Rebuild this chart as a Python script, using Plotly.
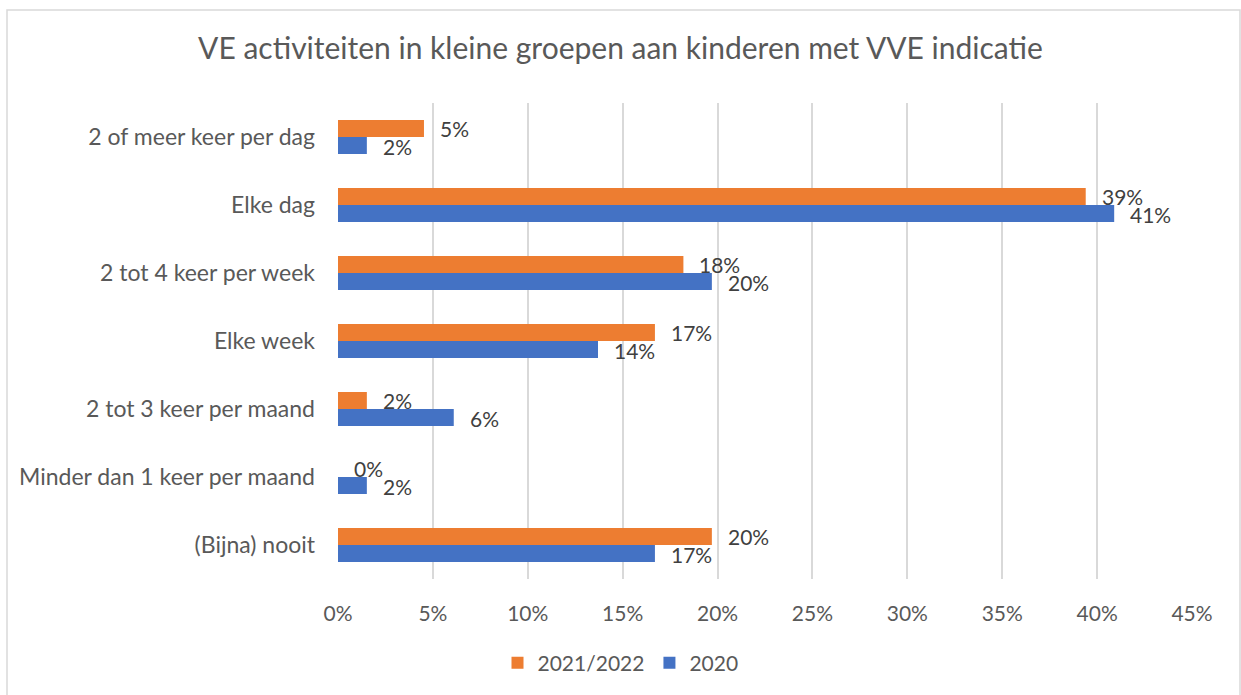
import plotly.graph_objects as go

categories = [
    "2 of meer keer per dag",
    "Elke dag",
    "2 tot 4 keer per week",
    "Elke week",
    "2 tot 3 keer per maand",
    "Minder dan 1 keer per maand",
    "(Bijna) nooit",
]
vals_2122 = [0.0453, 0.394, 0.182, 0.167, 0.0152, 0.0, 0.197]
vals_2020 = [0.0152, 0.409, 0.197, 0.137, 0.061, 0.0152, 0.167]
x_ticks = [0, 0.05, 0.10, 0.15, 0.20, 0.25, 0.30, 0.35, 0.40, 0.45]
x_tick_labels = ["0%", "5%", "10%", "15%", "20%", "25%", "30%", "35%", "40%", "45%"]

ORANGE = "#ED7D31"
BLUE = "#4472C4"
FONT = "Lato"

fig = go.Figure()
fig.add_trace(go.Bar(y=categories, x=vals_2122, name="2021/2022", orientation="h",
                     marker=dict(color=ORANGE, line=dict(width=0))))
fig.add_trace(go.Bar(y=categories, x=vals_2020, name="2020", orientation="h",
                     marker=dict(color=BLUE, line=dict(width=0))))

annotations = []
for series, shift in ((vals_2122, 9), (vals_2020, -9)):
    for cat, v in zip(categories, series):
        annotations.append(dict(
            x=v, y=cat, xref="x", yref="y", text=f"{round(v * 100):.0f}%",
            showarrow=False, xanchor="left", yanchor="middle", xshift=14, yshift=shift,
            font=dict(family=FONT, size=21, color="#404040"),
        ))

fig.update_layout(
    width=1241, height=695,
    margin=dict(l=338, r=49, t=103, b=116),
    paper_bgcolor="white", plot_bgcolor="white",
    barmode="group", bargap=0.5, bargroupgap=0,
    title=dict(text="VE activiteiten in kleine groepen aan kinderen met VVE indicatie",
               x=0.5, xref="container", xanchor="center", y=1 - 48 / 695, yref="container",
               yanchor="middle", font=dict(family=FONT, size=30, color="#595959")),
    xaxis=dict(range=[0, 0.45], tickvals=x_ticks, ticktext=x_tick_labels,
               showgrid=True, gridcolor="#D9D9D9", gridwidth=1.5, zeroline=False,
               showline=False, ticks="", ticklabelstandoff=20,
               tickfont=dict(family=FONT, size=21, color="#595959"), fixedrange=True),
    yaxis=dict(autorange="reversed", showgrid=False, zeroline=False, showline=False,
               ticks="", ticklabelstandoff=22,
               tickfont=dict(family=FONT, size=23, color="#595959")),
    legend=dict(orientation="h", x=0.5, xref="container", xanchor="center",
                y=1 - 663 / 695, yref="container", yanchor="middle",
                font=dict(family=FONT, size=21, color="#595959"),
                itemwidth=30, traceorder="normal"),
    annotations=annotations,
    shapes=[dict(type="rect", xref="paper", yref="paper",
                 x0=(7 - 338) / 854, x1=(1240 - 338) / 854,
                 y0=(579 - 700) / 476, y1=1 + (103 - 10) / 476,
                 line=dict(color="#D9D9D9", width=1.5), fillcolor="rgba(0,0,0,0)", layer="below")],
    showlegend=True,
)
fig.write_html("out.html", config={"displayModeBar": False},
               post_script="document.body.style.margin='0';document.body.style.overflow='hidden';")
